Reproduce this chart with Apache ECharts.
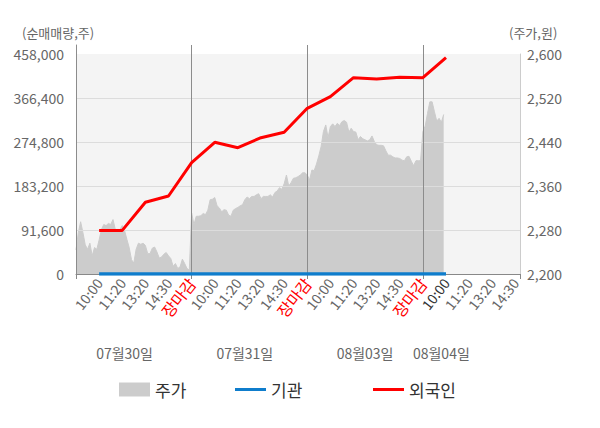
<!DOCTYPE html>
<html>
<head>
<meta charset="utf-8">
<script src="https://cdn.jsdelivr.net/npm/echarts@6/dist/echarts.min.js"></script>
<style>
    html, body { margin: 0; padding: 0; background: #fff; }
    #chart { width: 600px; height: 428px; }
</style>
</head>
<body>
<div id="chart"></div>
<script>
    // tick labels
    var dayLabels = ['10:00', '11:20', '13:20', '14:30', '장마감'];
    var dateLabels = ['07월30일', '07월31일', '08월03일', '08월04일'];
    var dateSlots = [21, 73, 125, 158];
    var slotStep = 10;          // categories between two time labels
    var slotCount = 193;        // categories on the x axis
    var dayBreaks = [50, 100, 150];
    var nowLabel = 160;         // the black "10:00"

    // 주가 (원), one value per category
    var price = [
        2244, 2275, 2295, 2275, 2253, 2245, 2256, 2233, 2248, 2245,
        2262, 2281, 2290, 2288, 2292, 2290, 2299, 2281, 2281, 2281,
        2288, 2279, 2263, 2248, 2226, 2220, 2245, 2256, 2254, 2256,
        2252, 2237, 2237, 2247, 2249, 2240, 2229, 2231, 2236, 2239,
        2233, 2228, 2214, 2219, 2210, 2213, 2227, 2219, 2210, 2207,
        2311, 2290, 2305, 2305, 2306, 2310, 2308, 2316, 2335, 2336,
        2339, 2324, 2320, 2313, 2317, 2316, 2307, 2305, 2316, 2319,
        2321, 2324, 2326, 2335, 2340, 2337, 2341, 2341, 2344, 2346,
        2337, 2341, 2341, 2341, 2344, 2340, 2348, 2351, 2357, 2354,
        2364, 2380, 2360, 2366, 2374, 2375, 2377, 2380, 2384, 2384,
        2380, 2371, 2389, 2388, 2400, 2415, 2432, 2459, 2471, 2448,
        2468, 2473, 2468, 2474, 2470, 2477, 2479, 2476, 2458, 2465,
        2459, 2458, 2444, 2450, 2446, 2444, 2442, 2444, 2451, 2441,
        2435, 2434, 2434, 2433, 2424, 2416, 2416, 2413, 2411, 2411,
        2410, 2407, 2406, 2413, 2414, 2405, 2397, 2406, 2406, 2406,
        2459, 2469, 2492, 2513, 2513, 2495, 2478, 2483, 2476, 2490
    ];

    // 순매매량 (주), one value per time label from the first 10:00
    var foreign = [90800, 90800, 149300, 162400, 231700, 274200, 263000, 283800,
        295000, 344900, 369100, 408700, 406000, 409500, 408700, 450300];
    var institution = [0, 0, 0, 0, 0, 0, 0, 0, 0, 0, 0, 0, 0, 0, 0, 0];

    var leftTicks = {min: 0, max: 458000, interval: 91600};
    var rightTicks = {min: 2200, max: 2600, interval: 80};

    var categories = [];
    for (var i = 0; i < slotCount; i++) {
        categories.push(String(i));
    }

    function atSlots(values) {
        var out = [];
        for (var i = 0; i < slotCount; i++) {
            out.push(null);
        }
        values.forEach(function (v, k) {
            out[(k + 1) * slotStep] = v;
        });
        return out;
    }

    function timeLabel(idx) {
        if (idx <= 0 || idx % slotStep !== 0) return '';
        return dayLabels[(idx / slotStep - 1) % dayLabels.length];
    }

    function comma(v) {
        return String(v).replace(/\B(?=(\d{3})+(?!\d))/g, ',');
    }

    var FONT = '"Noto Sans CJK KR", "Noto Sans", sans-serif';
    var grey = '#666';
    var legendText = {fontSize: 17, color: '#333', fontFamily: FONT};

    var chart = echarts.init(document.getElementById('chart'), null, {renderer: 'svg'});

    var option = {
        backgroundColor: '#fff',
        textStyle: {fontFamily: FONT},
        animation: false,
        grid: [
            {left: 76, right: 80, top: 54, bottom: 154, show: true, backgroundColor: '#f4f4f4', borderWidth: 0},
            {left: 76, right: 80, top: 45, bottom: 154, show: false}
        ],
        graphic: [
            {type: 'text', left: 22, top: 26, style: {text: '(순매매량,주)', fill: grey, font: '13px ' + FONT}},
            {type: 'text', left: 509, top: 26, style: {text: '(주가,원)', fill: grey, font: '13px ' + FONT}}
        ],
        legend: [
            {data: [{name: '주가', icon: 'rect'}], left: 114, top: 376, itemWidth: 31, itemHeight: 14,
                textStyle: legendText},
            {data: [{name: '기관', icon: 'rect'}], left: 230, top: 376, itemWidth: 31, itemHeight: 3,
                textStyle: legendText},
            {data: [{name: '외국인', icon: 'rect'}], left: 368, top: 376, itemWidth: 31, itemHeight: 3,
                textStyle: legendText}
        ],
        xAxis: [
            {
                type: 'category',
                gridIndex: 0,
                data: categories,
                boundaryGap: false,
                axisLine: {lineStyle: {color: '#888'}},
                axisTick: {
                    length: 5,
                    lineStyle: {color: '#888'},
                    interval: function (idx) {
                        return idx % 50 === 0 || idx === slotCount - 1;
                    }
                },
                splitLine: {show: false},
                axisLabel: {
                    interval: function (idx) {
                        return timeLabel(idx) !== '';
                    },
                    formatter: function (value) {
                        var t = timeLabel(parseInt(value, 10));
                        return t === '장마감' ? '{close|' + t + '}' : t;
                    },
                    color: function (value) {
                        return parseInt(value, 10) === nowLabel ? '#333' : grey;
                    },
                    rich: {
                        close: {color: '#ff0000', fontSize: 16, fontFamily: FONT}
                    },
                    rotate: 52,
                    margin: 6,
                    fontSize: 14,
                    fontFamily: FONT
                }
            },
            {
                type: 'category',
                gridIndex: 0,
                position: 'bottom',
                offset: 64,
                data: categories,
                boundaryGap: false,
                axisLine: {show: false, onZero: false},
                axisTick: {show: false},
                splitLine: {show: false},
                axisLabel: {
                    interval: function (idx) {
                        return dateSlots.indexOf(idx) >= 0;
                    },
                    formatter: function (value) {
                        var k = dateSlots.indexOf(parseInt(value, 10));
                        return k >= 0 ? dateLabels[k] : '';
                    },
                    color: grey,
                    fontSize: 14,
                    margin: 8,
                    fontFamily: FONT
                }
            },
            {
                type: 'category',
                gridIndex: 1,
                data: categories,
                boundaryGap: false,
                z: 1.5,
                axisLine: {show: false},
                axisTick: {show: false},
                axisLabel: {show: false},
                splitLine: {
                    show: true,
                    lineStyle: {color: '#8c8c8c', width: 1},
                    interval: function (idx) {
                        return dayBreaks.indexOf(idx) >= 0;
                    }
                }
            }
        ],
        yAxis: [
            {
                type: 'value',
                gridIndex: 0,
                min: leftTicks.min,
                max: leftTicks.max,
                interval: leftTicks.interval,
                z: 1.5,
                axisLine: {show: false},
                axisTick: {show: false},
                splitLine: {show: true, showMaxLine: false, showMinLine: false, lineStyle: {color: '#dcdcdc'}},
                axisLabel: {color: grey, fontSize: 14, margin: 12, fontFamily: FONT, formatter: comma}
            },
            {
                type: 'value',
                gridIndex: 0,
                position: 'right',
                min: rightTicks.min,
                max: rightTicks.max,
                interval: rightTicks.interval,
                axisLine: {show: true, lineStyle: {color: '#cccccc'}},
                axisTick: {show: false},
                splitLine: {show: false},
                axisLabel: {color: grey, fontSize: 14, margin: 7, fontFamily: FONT, formatter: comma}
            },
            {
                type: 'value',
                gridIndex: 1,
                min: 0,
                max: 1,
                z: 1.5,
                axisLine: {show: true, lineStyle: {color: '#8c8c8c'}},
                axisTick: {show: false},
                axisLabel: {show: false},
                splitLine: {show: false}
            }
        ],
        series: [
            {
                name: '주가',
                type: 'line',
                xAxisIndex: 0,
                yAxisIndex: 1,
                data: price,
                symbol: 'none',
                color: '#cccccc',
                z: 1,
                lineStyle: {width: 1, color: '#cccccc'},
                areaStyle: {color: '#cccccc', opacity: 1}
            },
            {
                name: '기관',
                type: 'line',
                xAxisIndex: 0,
                yAxisIndex: 0,
                data: atSlots(institution),
                connectNulls: true,
                symbol: 'none',
                color: '#0f7dcc',
                z: 3,
                lineStyle: {width: 3.5, color: '#0f7dcc'}
            },
            {
                name: '외국인',
                type: 'line',
                xAxisIndex: 0,
                yAxisIndex: 0,
                data: atSlots(foreign),
                connectNulls: true,
                symbol: 'none',
                color: '#ff0000',
                z: 4,
                lineStyle: {width: 3, color: '#ff0000'}
            }
        ]
    };

    chart.setOption(option);
</script>
</body>
</html>
